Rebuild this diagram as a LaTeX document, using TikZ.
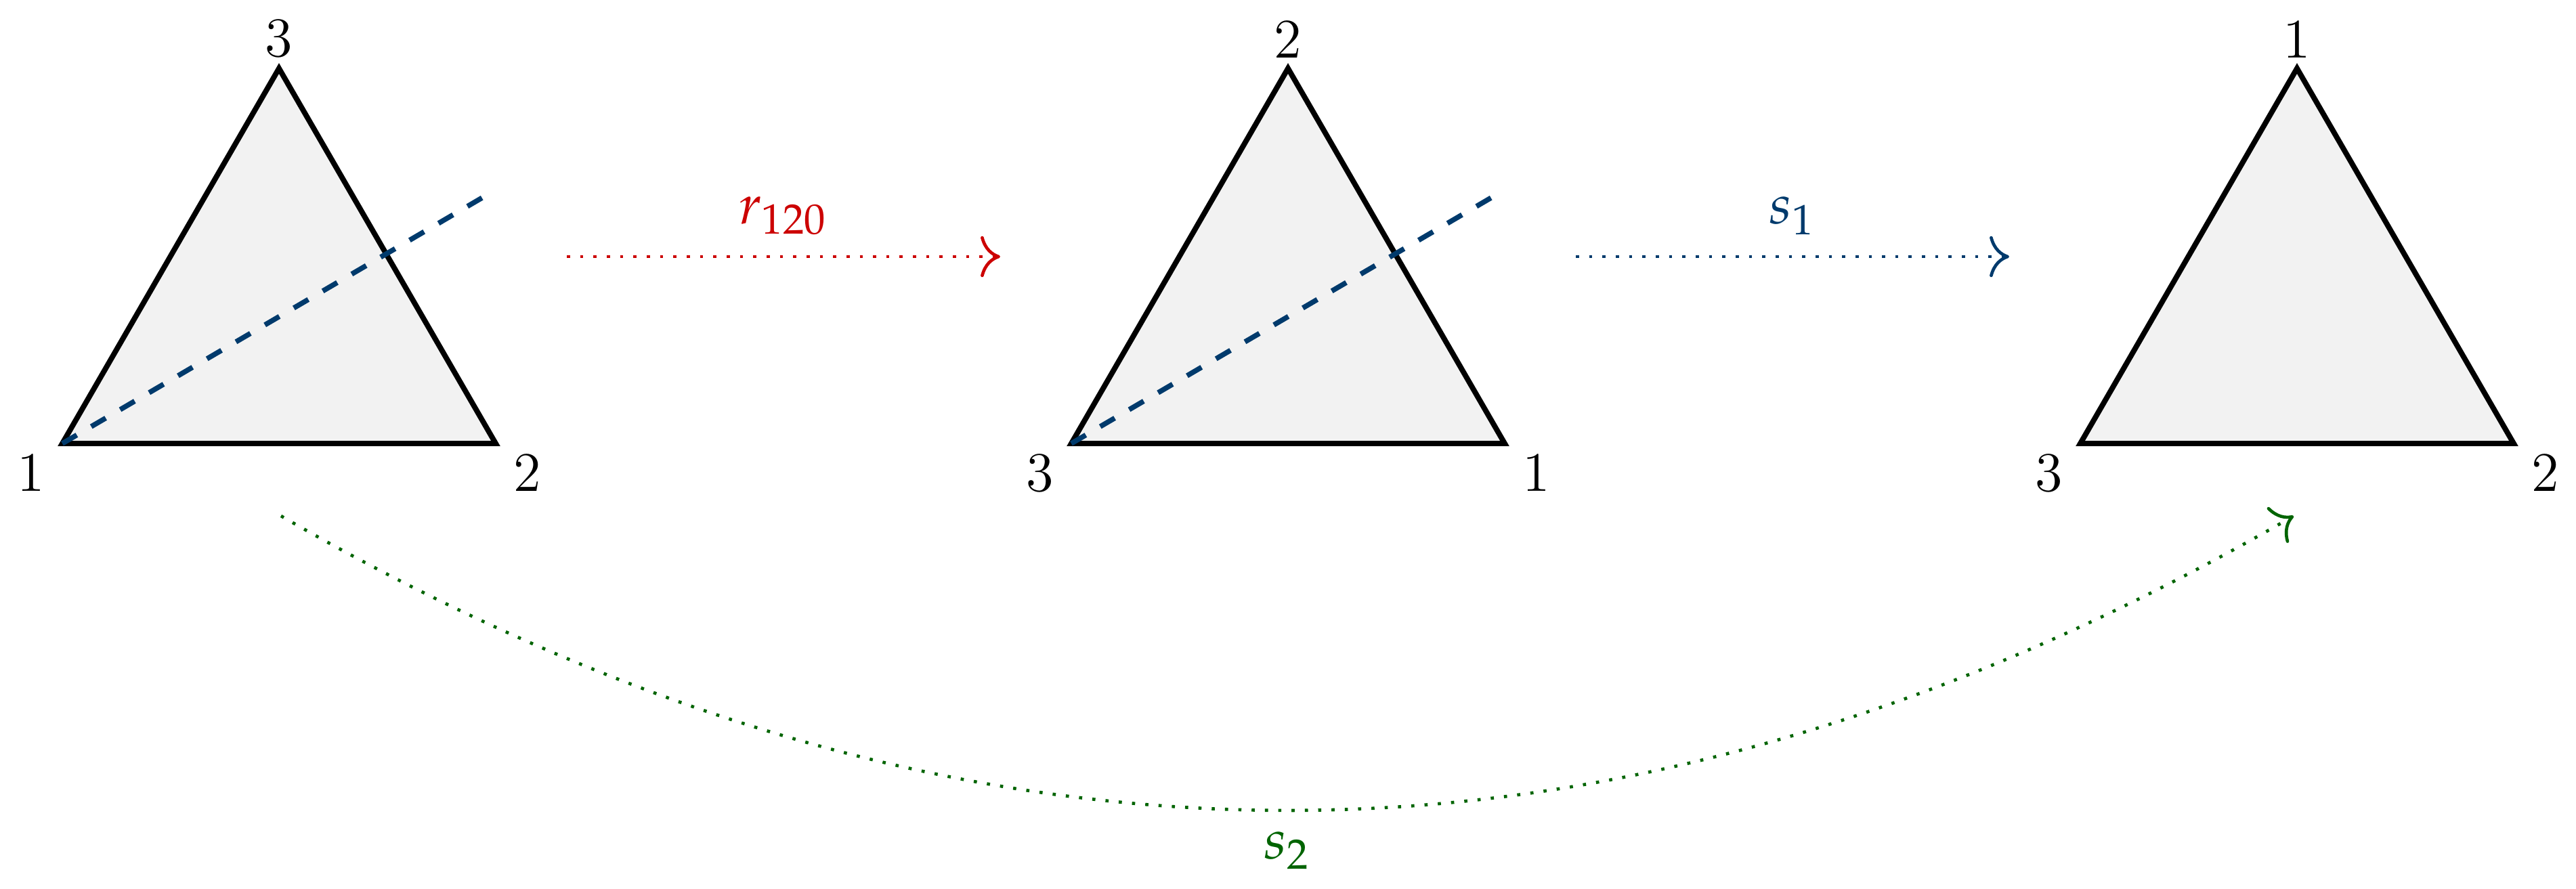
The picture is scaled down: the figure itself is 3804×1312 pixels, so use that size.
\documentclass[tikz,border=0pt]{standalone}
\usepackage{mathpazo}
\usetikzlibrary{arrows.meta}
\definecolor{mapred}{RGB}{204,0,0}
\definecolor{mapblue}{RGB}{0,58,108}
\definecolor{mapgreen}{RGB}{0,100,0}
\definecolor{trifill}{RGB}{242,242,242}
\begin{document}
\begin{tikzpicture}[x=0.004684cm,y=-0.004684cm,
  font=\fontsize{11}{13}\selectfont,
  tri/.style={draw=black,line width=1.05pt,fill=trifill,line join=miter},
  axisline/.style={draw=mapblue,line width=1pt,dash pattern=on 3.3pt off 3.3pt},
  vlab/.style={inner sep=0pt},
  maparrow/.style={-{To[scale=1.3]},line width=0.62pt,dotted},
  maplab/.style={inner sep=4pt}]
\useasboundingbox (0,0) rectangle (3804,1312);

% triangle 1
\coordinate (p1a) at (92,655);
\coordinate (p1b) at (732,655);
\coordinate (p1c) at (412,101);
\coordinate (p1d) at (724,285);
\draw[tri] (p1a) -- (p1b) -- (p1c) -- cycle;
\draw[axisline] (p1a) -- (p1d);
\node[vlab,anchor=north east,xshift=-3.3pt,yshift=-1.9pt] (l1a) at (p1a) {1};
\node[vlab,anchor=north west,xshift=3.3pt,yshift=-1.9pt] (l1b) at (p1b) {2};
\node[vlab,anchor=south,yshift=1.9pt] (l1c) at (p1c) {3};

% triangle 2
\coordinate (p2a) at (1582,655);
\coordinate (p2b) at (2222,655);
\coordinate (p2c) at (1902,101);
\coordinate (p2d) at (2214,285);
\draw[tri] (p2a) -- (p2b) -- (p2c) -- cycle;
\draw[axisline] (p2a) -- (p2d);
\node[vlab,anchor=north east,xshift=-3.3pt,yshift=-1.9pt] (l2a) at (p2a) {3};
\node[vlab,anchor=north west,xshift=3.3pt,yshift=-1.9pt] (l2b) at (p2b) {1};
\node[vlab,anchor=south,yshift=1.9pt] (l2c) at (p2c) {2};

% triangle 3
\coordinate (p3a) at (3072,655);
\coordinate (p3b) at (3712,655);
\coordinate (p3c) at (3392,101);
\draw[tri] (p3a) -- (p3b) -- (p3c) -- cycle;
\node[vlab,anchor=north east,xshift=-3.3pt,yshift=-1.9pt] (l3a) at (p3a) {3};
\node[vlab,anchor=north west,xshift=3.3pt,yshift=-1.9pt] (l3b) at (p3b) {2};
\node[vlab,anchor=south,yshift=1.9pt] (l3c) at (p3c) {1};

% maps
\coordinate (r0) at (837,379);
\coordinate (r1) at (1477,379);
\draw[maparrow,mapred] (r0) -- node[maplab,above] (lr) {$r_{120}$} (r1);

\coordinate (s0) at (2327,379);
\coordinate (s1) at (2967,379);
\draw[maparrow,mapblue] (s0) -- node[maplab,above] (ls1) {$s_1$} (s1);

\coordinate (g0) at (415,762);
\coordinate (g1) at (3387,762);
\draw[maparrow,mapgreen] (g0) to[bend right=30] node[maplab,below] (ls2) {$s_2$} (g1);
\end{tikzpicture}
\end{document}
